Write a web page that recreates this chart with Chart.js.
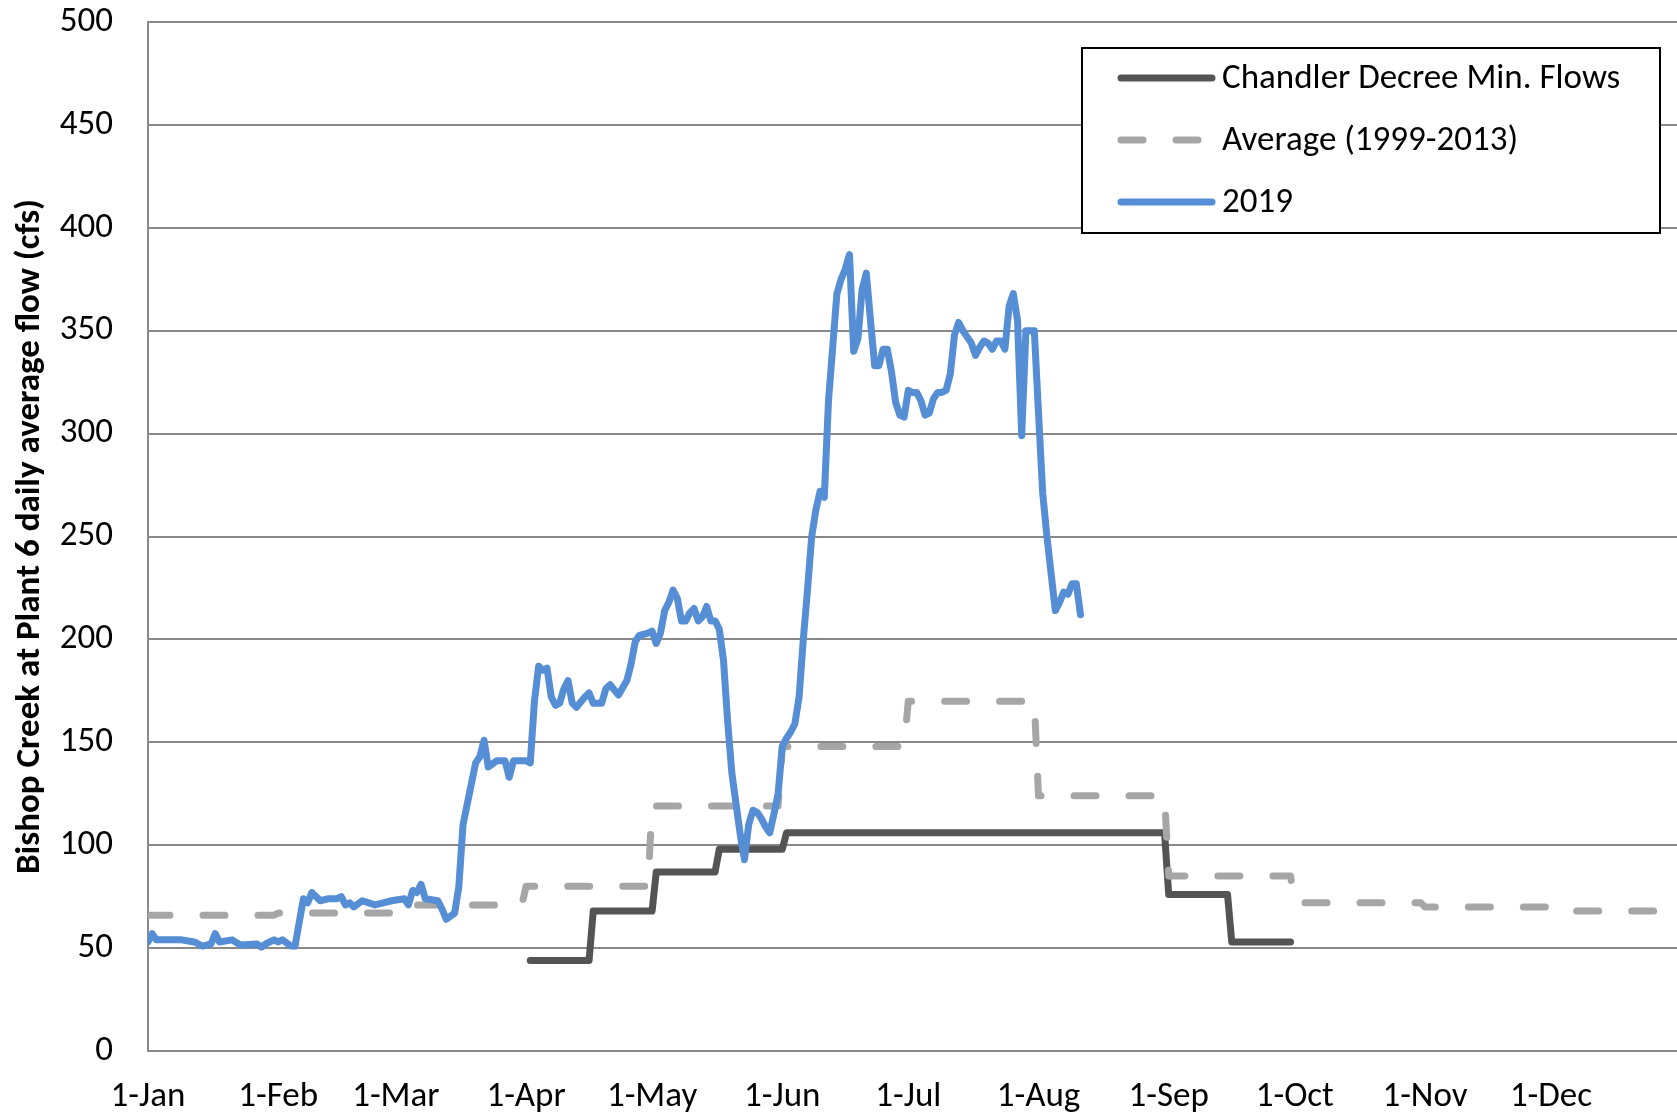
<!DOCTYPE html>
<html>
<head>
<meta charset="utf-8">
<script src="https://cdn.jsdelivr.net/npm/chart.js@4.4.1/dist/chart.umd.min.js"></script>
<style>
html, body { margin: 0; padding: 0; background: #fff; }
#wrap { width: 1677px; height: 1117px; }
</style>
</head>
<body>
<div id="wrap"><canvas id="flowChart" width="1677" height="1117"></canvas></div>
<script>
// x axis is day of year, 0 = 1-Jan
var monthLabels = ['1-Jan', '1-Feb', '1-Mar', '1-Apr', '1-May', '1-Jun', '1-Jul', '1-Aug', '1-Sep', '1-Oct', '1-Nov', '1-Dec'];
var monthStarts = [0, 31, 59, 90, 120, 151, 181, 212, 243, 273, 304, 334];
var yTicks = [0, 50, 100, 150, 200, 250, 300, 350, 400, 450, 500];

// Average (1999-2013), one value per month
var avgMonthly = [66, 67, 71, 80, 119, 148, 170, 124, 85, 72, 70, 68];

// Chandler Decree minimum flows
var chandlerDays = [91, 105, 106, 120, 121, 135, 136, 151, 152, 242, 243, 257, 258, 272];
var chandlerFlow = [44, 44, 68, 68, 87, 87, 98, 98, 106, 106, 76, 76, 53, 53];

// 2019 daily average flow (cfs)
var flowDays = [0, 1, 2, 3, 5, 8, 11, 13, 15, 16, 17, 20, 22, 26, 27, 28, 30, 31, 32, 34, 35,
    37, 38, 39, 41, 43, 45, 46, 47, 48, 49, 51, 54, 56, 58, 61, 62, 63, 64, 65, 66, 69, 70, 71, 73,
    74, 75, 76, 77, 78, 79, 80, 81, 83, 85, 86, 87, 89, 90, 91, 92, 93, 94, 95, 96, 97, 98, 99, 100,
    101, 102, 104, 105, 106, 108, 109, 110, 112, 114, 115, 116, 117, 119, 120, 121, 122, 123, 124,
    125, 126, 127, 128, 129, 130, 131, 132, 133, 134, 135, 136, 137, 138, 139, 140, 141, 142, 143,
    144, 145, 146, 147, 148, 149, 150, 151, 152, 153, 154, 155, 156, 157, 158, 159, 160, 161, 162,
    163, 164, 165, 166, 167, 168, 169, 170, 171, 172, 173, 174, 175, 176, 177, 178, 179, 180, 181,
    182, 183, 184, 185, 186, 187, 188, 189, 190, 191, 192, 193, 194, 195, 196, 197, 198, 199, 200,
    201, 202, 203, 204, 205, 206, 207, 208, 209, 210, 211, 212, 213, 214, 215, 216, 217, 218, 219,
    220, 221, 222];
var flow2019 = [53, 57, 54, 54, 54, 54, 53, 51, 52, 57, 53, 54, 51.5, 52, 50.5, 52, 54, 53, 54, 51, 51,
    74, 72, 77, 73, 74, 74, 75, 71, 72, 70, 73, 71, 72, 73, 74, 71, 78, 77, 81, 74, 73, 69, 64, 67,
    80, 110, 120, 130, 140, 143, 151, 138, 141, 141, 133, 141, 141, 141, 140, 170, 187, 185, 186, 172, 168, 169, 176, 180,
    169, 167, 172, 174, 169, 169, 176, 178, 173, 180, 188, 199, 202, 203, 204, 198, 203, 214, 218,
    224, 220, 209, 209, 213, 215, 209, 211, 216, 209, 209, 205, 190, 160, 135, 120, 105, 93, 110,
    117, 116, 113, 109, 106, 115, 125, 148, 152, 155, 159, 172, 200, 224, 250, 263, 272, 269, 316,
    342, 368, 375, 380, 387, 340, 346, 370, 378, 355, 333, 333, 341, 341, 330, 315, 309, 308, 321,
    320, 320, 316, 309, 310, 317, 320, 320, 321, 329, 348, 354, 350, 347, 344, 338, 342, 345, 344,
    341, 345, 345, 341, 362, 368, 355, 299, 350, 350, 350, 310, 271, 250, 232, 214, 218, 223, 222,
    227, 227, 212];

function toPoints(xs, ys) {
    var pts = [];
    for (var i = 0; i < xs.length; i++) pts.push({ x: xs[i], y: ys[i] });
    return pts;
}

var avgPoints = [];
for (var m = 0; m < avgMonthly.length; m++) {
    var endDay = m < 11 ? monthStarts[m + 1] - 1 : 364;
    avgPoints.push({ x: monthStarts[m], y: avgMonthly[m] });
    avgPoints.push({ x: endDay, y: avgMonthly[m] });
}

var fontFamily = 'Carlito, Calibri, "Open Sans", sans-serif';
var gridGray = 'rgb(137,137,137)';

// legend drawn inside the plot, like the original
var boxLegend = {
    id: 'boxLegend',
    afterDraw: function (chart) {
        var ctx = chart.ctx;
        var x0 = 1082, y0 = 48, w = 578, h = 185;
        ctx.save();
        ctx.fillStyle = '#fff';
        ctx.fillRect(x0, y0, w, h);
        ctx.strokeStyle = '#000';
        ctx.lineWidth = 2;
        ctx.strokeRect(x0, y0, w, h);
        ctx.font = '35px ' + fontFamily;
        ctx.textBaseline = 'middle';
        chart.data.datasets.forEach(function (ds, i) {
            var yy = 78 + i * 62;
            ctx.beginPath();
            ctx.strokeStyle = ds.borderColor;
            ctx.lineWidth = ds.borderWidth;
            ctx.lineCap = 'round';
            ctx.setLineDash(ds.borderDash || []);
            ctx.moveTo(1121, yy);
            ctx.lineTo(1212, yy);
            ctx.stroke();
            ctx.setLineDash([]);
            ctx.fillStyle = '#000';
            ctx.fillText(ds.label, 1222, yy + 1);
        });
        ctx.restore();
    }
};

new Chart(document.getElementById('flowChart').getContext('2d'), {
    type: 'line',
    data: {
        datasets: [{
            label: 'Chandler Decree Min. Flows',
            data: toPoints(chandlerDays, chandlerFlow),
            borderColor: 'rgb(84,84,84)',
            borderWidth: 7,
            order: 3
        }, {
            label: 'Average (1999-2013)',
            data: avgPoints,
            borderColor: 'rgb(166,166,166)',
            borderWidth: 7,
            borderDash: [22, 33],
            order: 2
        }, {
            label: '2019',
            data: toPoints(flowDays, flow2019),
            borderColor: 'rgb(85,142,213)',
            borderWidth: 7,
            order: 1
        }]
    },
    options: {
        responsive: false,
        animation: false,
        devicePixelRatio: 1,
        layout: { padding: { top: 22, right: 0, bottom: 0, left: 0 } },
        elements: {
            point: { radius: 0 },
            line: { tension: 0, borderCapStyle: 'round', borderJoinStyle: 'round', fill: false }
        },
        plugins: {
            legend: { display: false },
            tooltip: { enabled: false }
        },
        scales: {
            x: {
                type: 'linear',
                min: 0,
                max: 364,
                afterBuildTicks: function (scale) {
                    scale.ticks = monthStarts.map(function (d) { return { value: d }; });
                },
                afterFit: function (scale) { scale.height = 66; },
                grid: { display: false, drawTicks: false },
                border: { display: true, color: gridGray, width: 2 },
                ticks: {
                    autoSkip: false,
                    maxRotation: 0,
                    padding: 25,
                    color: '#000',
                    font: { family: fontFamily, size: 35 },
                    callback: function (v) { return monthLabels[monthStarts.indexOf(v)]; }
                }
            },
            y: {
                min: 0,
                max: 500,
                afterBuildTicks: function (scale) {
                    scale.ticks = yTicks.map(function (v) { return { value: v }; });
                },
                afterFit: function (scale) { scale.width = 148; },
                // invisible tick marks give the gap between labels and axis
                grid: { color: gridGray, lineWidth: 2, drawTicks: true, tickLength: 35, tickColor: 'rgba(0,0,0,0)' },
                border: { display: true, color: gridGray, width: 2 },
                ticks: {
                    padding: 0,
                    color: '#000',
                    font: { family: fontFamily, size: 35 }
                },
                title: {
                    display: true,
                    text: 'Bishop Creek at Plant 6 daily average flow (cfs)',
                    color: '#000',
                    padding: { top: 9, bottom: 0 },
                    font: { family: fontFamily, size: 35, weight: 'bold' }
                }
            }
        }
    },
    plugins: [boxLegend]
});
</script>
</body>
</html>
